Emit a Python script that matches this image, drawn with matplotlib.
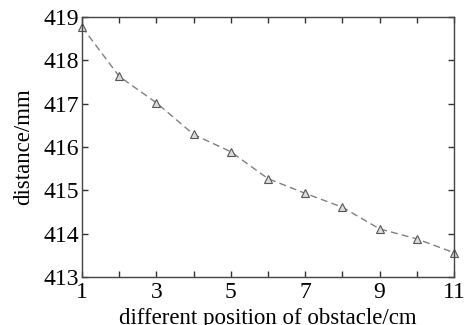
import numpy as np
import matplotlib
matplotlib.use("Agg")
import matplotlib.pyplot as plt

plt.rcParams["font.family"] = ["Liberation Serif", "DejaVu Serif"]

positions = [1, 2, 3, 4, 5, 6, 7, 8, 9, 10, 11]
distance = [418.77, 417.63, 417.02, 416.29, 415.89, 415.27, 414.93, 414.61, 414.11, 413.88, 413.56]
xtick_labels = ["1", "", "3", "", "5", "", "7", "", "9", "", "11"]
yticks = [413, 414, 415, 416, 417, 418, 419]

fig = plt.figure(figsize=(4.72, 3.25), dpi=100)
ax = fig.add_axes([82 / 472, 1 - 277 / 325, (454 - 82) / 472, (277 - 17) / 325])

ax.plot(positions, distance, linestyle="--", dashes=(5, 3), color="#808080", linewidth=1.0,
        marker="^", markersize=6, markerfacecolor="#dcdcdc", markeredgecolor="#555555",
        markeredgewidth=0.8, clip_on=False)

ax.set_xlim(1, 11)
ax.set_ylim(413, 419)
ax.set_xticks(positions)
ax.set_xticklabels(xtick_labels)
ax.set_yticks(yticks)
ax.tick_params(direction="in", top=True, right=True, labelsize=17, length=4,
               width=1, color="#333333", pad=2)
ax.tick_params(axis="x", pad=3.5)
for s in ax.spines.values():
    s.set_color("#444444")
    s.set_linewidth(1.0)

ax.set_xlabel("different position of obstacle/cm", fontsize=16.5, labelpad=4)
ax.set_ylabel("distance/mm", fontsize=16.5, labelpad=7)

fig.savefig("out.png", dpi=100)
